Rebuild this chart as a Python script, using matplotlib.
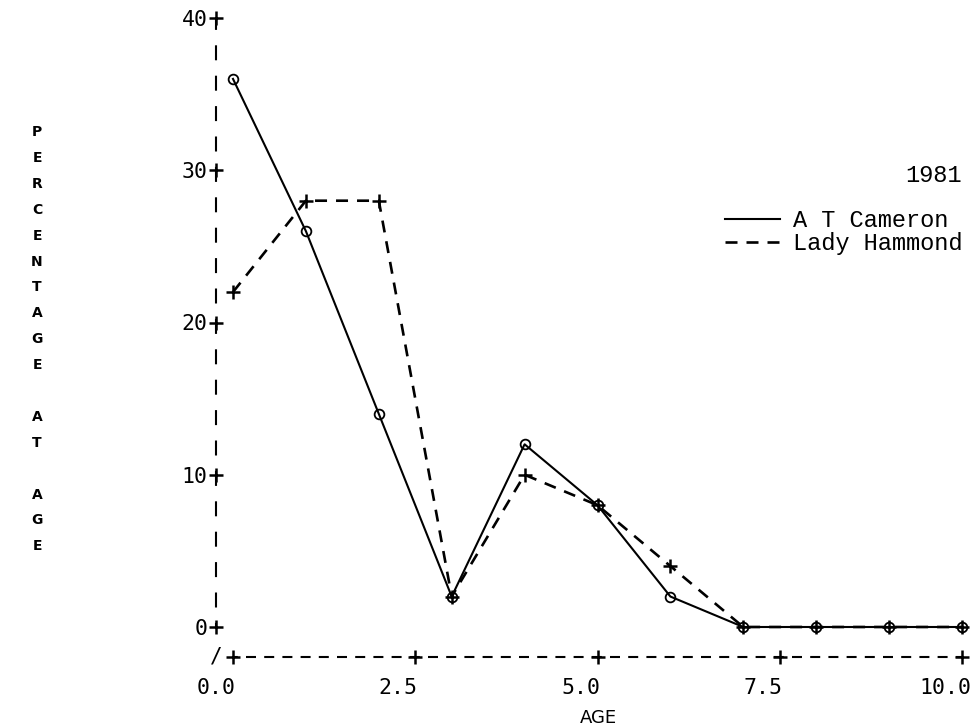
import numpy as np
import matplotlib
matplotlib.use("Agg")
import matplotlib.pyplot as plt
from matplotlib.transforms import ScaledTranslation

plt.rcParams['lines.scale_dashes'] = False

# ---- data ----
ages = [0, 1, 2, 3, 4, 5, 6, 7, 8, 9, 10]
cameron = [36, 26, 14, 2, 12, 8, 2, 0, 0, 0, 0]
hammond = [22, 28, 28, 2, 10, 8, 4, 0, 0, 0, 0]
series_names = ["A T Cameron", "Lady Hammond"]
legend_title = "1981"
xticks = [0.0, 2.5, 5.0, 7.5, 10.0]
xtick_labels = ["0.0", "2.5", "5.0", "7.5", "10.0"]
yticks = [0, 10, 20, 30, 40]
ytick_labels = ["0", "10", "20", "30", "40"]
xlabel = "AGE"
ylabel = "PERCENTAGE AT AGE"

W, H = 971, 727
fig = plt.figure(figsize=(W / 100, H / 100), dpi=100)

# axes: left spine at x=216px, right at 962px, bottom spine at y=657px, top at 18px
ax_left, ax_right, ax_bot, ax_top = 216, 962, 657, 18
ax = fig.add_axes([ax_left / W, 1 - ax_bot / H, (ax_right - ax_left) / W, (ax_bot - ax_top) / H])

px_per_x = (962 - 233) / 10.0
ax.set_xlim(-(233 - 216) / px_per_x, 10.0)
px_per_y = (627 - 18) / 40.0
ax.set_ylim(-(657 - 627) / px_per_y, 40.0)

P = 0.72  # points per pixel
mono = "DejaVu Sans Mono"

# data lines
l1, = ax.plot(ages, cameron, color="black", lw=1.5, marker="o", ms=7, mfc="none",
              mec="black", mew=1.3, clip_on=False, zorder=3)
l2, = ax.plot(ages, hammond, color="black", lw=1.9, ls=(0, (12 * P, 9 * P)),
              marker="+", ms=10, mew=1.8, clip_on=False, zorder=3)

# spines: dashed like a line printer
for s in ["top", "right"]:
    ax.spines[s].set_visible(False)
ax.spines["left"].set_bounds(0, 40)
ax.spines["bottom"].set_bounds(0, 10)
ax.spines["left"].set_linestyle((10.9 * P, (15 * P, 15.4 * P)))
ax.spines["bottom"].set_linestyle((5.2 * P, (10 * P, 8.2 * P)))
for s in ["left", "bottom"]:
    ax.spines[s].set_linewidth(1.5)
    ax.spines[s].set_capstyle("butt")

# ticks as '+' signs on the axes
ax.set_xticks(xticks)
ax.set_xticklabels(xtick_labels, fontsize=15.5, family=mono)
ax.set_yticks(yticks)
ax.set_yticklabels(ytick_labels, fontsize=15.5, family=mono)
ax.tick_params(axis="both", length=0)
ax.tick_params(axis="x", pad=15)
ax.tick_params(axis="y", pad=6)
ax.plot(xticks, np.zeros(len(xticks)), transform=ax.get_xaxis_transform(), ls="none",
        marker="+", ms=10, mew=1.8, color="black", clip_on=False)
ax.plot(np.zeros(len(yticks)), yticks, transform=ax.get_yaxis_transform(), ls="none",
        marker="+", ms=10, mew=1.8, color="black", clip_on=False)
for lab in ax.get_xticklabels():
    lab.set_transform(lab.get_transform() + ScaledTranslation(-17 / 100, 0, fig.dpi_scale_trans))

# corner break mark
ax.text(0, 0, "/", transform=ax.transAxes, ha="center", va="center", fontsize=15, family=mono)

# x label
ax.set_xlabel(xlabel, fontsize=13, family="DejaVu Sans")
ax.xaxis.set_label_coords((598 - ax_left) / (ax_right - ax_left), (ax_bot - 709) / (ax_bot - ax_top))

# vertical stacked y label
for i, ch in enumerate(ylabel):
    if ch == " ":
        continue
    fig.text(37 / W, 1 - (132 + 25.9 * i) / H, ch, ha="center", va="center", fontsize=10,
             family="DejaVu Sans", weight="bold")

# legend
ax.text(1.0, (ax_bot - 175) / (ax_bot - ax_top), legend_title, transform=ax.transAxes,
        ha="right", va="center", fontsize=17, family="Liberation Mono")
leg = ax.legend([l1, l2], series_names, loc="upper right",
                bbox_to_anchor=(1.0, (ax_bot - 209) / (ax_bot - ax_top)),
                frameon=False, borderaxespad=0, borderpad=0, handlelength=2.3,
                handletextpad=0.55, labelspacing=0.0,
                prop={"family": "Liberation Mono", "size": 17})
for h in leg.legend_handles:
    h.set_marker("")

fig.savefig("out.png", dpi=100)
